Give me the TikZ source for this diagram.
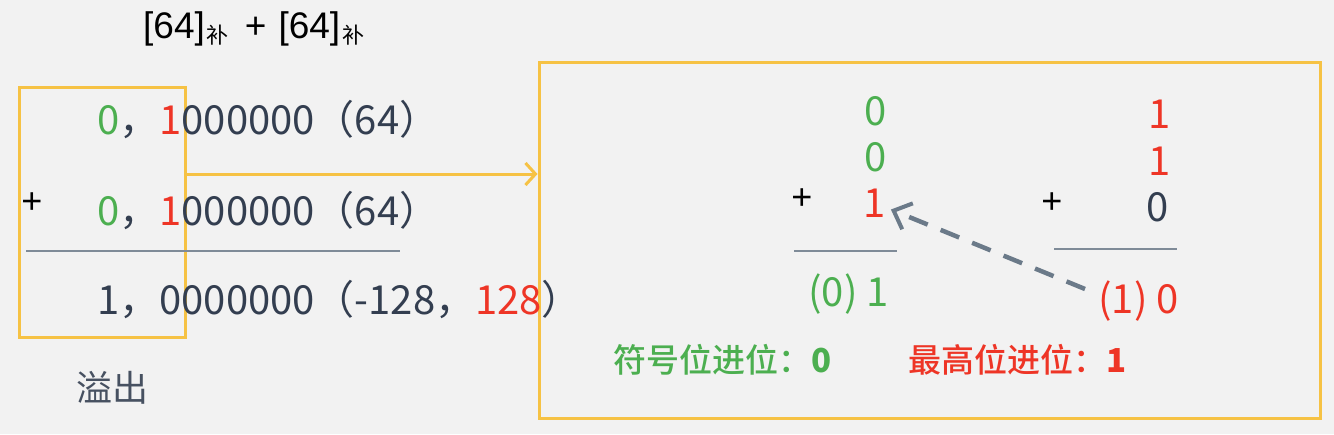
\documentclass[tikz,border=0pt]{standalone}
\usepackage{fontspec}
\usetikzlibrary{arrows.meta,calc}
\newfontfamily\cjk{Noto Sans CJK SC Medium}
\newfontfamily\cjkr{Noto Sans CJK SC}
\newfontfamily\lat{Liberation Sans}
\definecolor{bg}{HTML}{F2F2F2}
\definecolor{ylw}{HTML}{F6C244}
\definecolor{grn}{HTML}{4CAF50}
\definecolor{rd}{HTML}{EE3526}
\definecolor{dk}{HTML}{333E50}
\definecolor{ln}{HTML}{7F8B98}
\definecolor{da}{HTML}{6B7A89}
\begin{document}
\begin{tikzpicture}[x=1pt,y=-1pt,
  txt/.style={inner sep=0pt,font=\cjkr\fontsize{40}{40}\selectfont,text=dk},
  plus/.style={inner sep=0pt,font=\lat\fontsize{36}{36}\selectfont,text=black},
  note/.style={inner sep=0pt,font=\cjk\fontsize{33}{33}\selectfont},
  ybox/.style={draw=ylw,line width=3pt,inner sep=0pt},
  rule/.style={draw=ln,line width=1.5pt},
  yarrow/.style={draw=ylw,line width=3pt,-{Straight Barb[length=10pt,width=22pt,line width=3pt]}},
  darrow/.style={draw=da,line width=4.5pt,dash pattern=on 20pt off 14pt,-{Straight Barb[length=15pt,width=28pt,line width=4pt]}}]
\fill[bg] (0,0) rectangle (1334,434);
\useasboundingbox (0,0) rectangle (1334,434);
% title
\node[inner sep=0pt,anchor=base west,font=\lat\fontsize{37}{37}\selectfont,text=black] (title) at (143,38)
  {[64]\hspace{2pt}\raisebox{-5pt}{\cjkr\fontsize{22}{22}\selectfont 补}\hspace{16pt}+\hspace{12pt}[64]\hspace{2pt}\raisebox{-5pt}{\cjkr\fontsize{22}{22}\selectfont 补}};
% left boxes
\node[ybox,minimum width=166pt,minimum height=250pt] (box1) at (102,212) {};
\node[ybox,minimum width=781pt,minimum height=356pt] (box2) at (929.5,240) {};
% left rows
\node[txt,anchor=base west] (row1) at (97,134) {\textcolor{grn}{0}，\textcolor{rd}{1}000000（64）};
\node[plus] (p0) at (32,203) {+};
\node[txt,anchor=base west] (row2) at (97,225) {\textcolor{grn}{0}，\textcolor{rd}{1}000000（64）};
\coordinate (l1a) at (26,251);
\coordinate (l1b) at (400,251);
\draw[rule] (l1a) -- (l1b);
\node[txt,anchor=base west] (row3) at (97,314) {1，0000000（-128，\textcolor{rd}{128}）};
\node[inner sep=0pt,font=\cjkr\fontsize{36}{36}\selectfont,text=dk!90] (ovf) at (112,388) {溢出};
% yellow arrow
\coordinate (ay) at (0,174);
\draw[yarrow] (box1.east |- ay) -- (box2.west |- ay);
% right: column 1
\node[txt,text=grn] (a1) at (876,111) {0};
\node[txt,text=grn] (a2) at (876,157) {0};
\node[plus] (p1) at (802,199) {+};
\node[txt,text=rd] (a3) at (875,203) {1};
\coordinate (l2a) at (794,251);
\coordinate (l2b) at (897,251);
\draw[rule] (l2a) -- (l2b);
\node[txt,text=grn,anchor=base east] (res1) at (889,306) {(0) 1};
% right: column 2
\node[txt,text=rd] (b1) at (1160,114) {1};
\node[txt,text=rd] (b2) at (1160,161) {1};
\node[plus] (p2) at (1052,203) {+};
\node[txt] (b3) at (1158,207) {0};
\coordinate (l3a) at (1054,249);
\coordinate (l3b) at (1177,249);
\draw[rule] (l3a) -- (l3b);
\node[txt,text=rd,anchor=base east] (res2) at (1179,313) {(1) 0};
% dashed carry arrow
\coordinate (dtail) at (1085,289);
\draw[darrow,shorten >=5pt] (dtail) -- (a3);
% notes
\node[note,text=grn,anchor=base west] (n1) at (613,372) {符号位进位：{\bfseries 0}};
\node[note,text=rd,anchor=base west] (n2) at (908,372) {最高位进位：{\bfseries 1}};
\end{tikzpicture}
\end{document}
